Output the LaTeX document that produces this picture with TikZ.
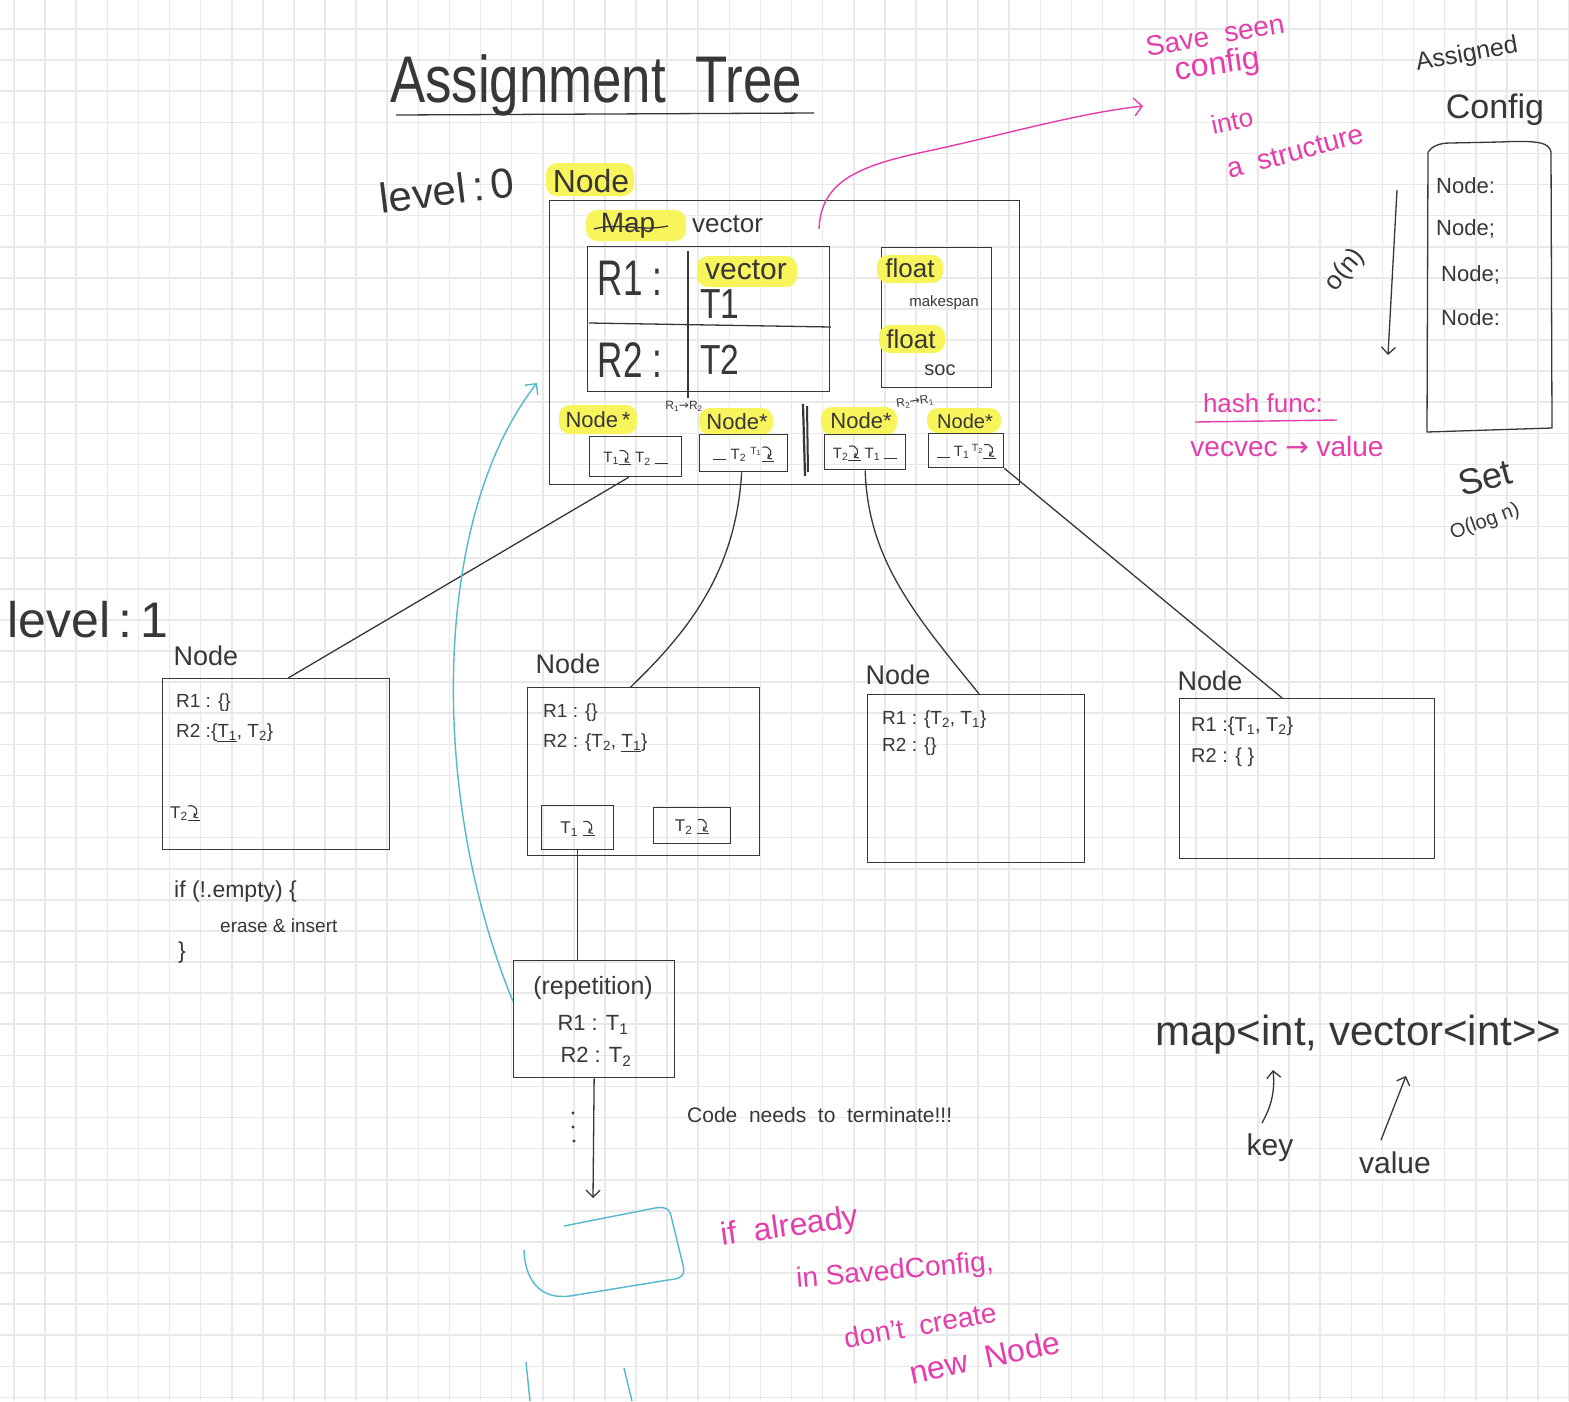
\documentclass[tikz,border=0pt]{standalone}
\usepackage{fontspec}
\setmainfont{Liberation Sans}
\newfontfamily\sym{DejaVu Sans}
\usetikzlibrary{arrows.meta,calc}
\definecolor{inkc}{RGB}{55,55,55}
\definecolor{pinkc}{RGB}{228,62,172}
\definecolor{cyanc}{RGB}{84,184,206}
\definecolor{hlc}{RGB}{248,244,92}
\definecolor{gridc}{RGB}{233,233,233}
\newcommand\fs[1]{\fontsize{#1}{#1}\selectfont}
% small hand-drawn "goes into" curl: over and down into the slot below
\newcommand\curl{\tikz[baseline=0pt,x=1pt,y=1pt]{\draw[draw=inkc,line width=1.1pt,-{Straight Barb[length=3pt,width=6pt]}] (0,12) .. controls (9,14) and (11,5) .. (5,0.5);}}
\newcommand\uc{\underline{\curl}}
\newcommand\blank{\rule[-1pt]{13pt}{1pt}}
\newcommand\sub[1]{\textsubscript{#1}}
\newcommand\sups[1]{\textsuperscript{#1}}

\begin{document}
\begin{tikzpicture}[x=1pt,y=-1pt,
  ink/.style={draw=inkc,line width=1.3pt},
  box/.style={draw=inkc,line width=1.3pt,rectangle,inner sep=0pt,anchor=north west},
  lbl/.style={inner sep=0pt,text=inkc},
  pinklbl/.style={inner sep=0pt,text=pinkc},
  pinkline/.style={draw=pinkc,line width=1.4pt},
  cyanline/.style={draw=cyanc,line width=1.4pt},
  hl/.style={fill=hlc,rounded corners=11pt},
  barb/.style={-{Straight Barb[length=7pt,width=14pt]}}
]
% paper and grid
\fill[white] (0,0) rectangle (1569,1401);
\useasboundingbox (0,0) rectangle (1569,1401);
\foreach \k in {0,...,50} \draw[gridc,line width=1.6pt] ({14+31.1*\k},0) -- ({14+31.1*\k},1401);
\foreach \k in {0,...,44} \draw[gridc,line width=1.6pt] (0,{29+31.1*\k}) -- (1569,{29+31.1*\k});

% title
\node[lbl,anchor=base west] (title) at (390,102) {\fs{66}\scalebox{0.8}[1]{Assignment\ \ Tree}};
\draw[ink] (396,115) -- (814,113);

% ---------- level 0 ----------
\node[lbl,rotate=7] (lv0) at (447,190) {\fs{42}level\,:\,0};
\fill[hl] (546,163) rectangle (634,196);
\node[lbl] (rootlbl) at (591,181) {\fs{32}Node};
\node[box,minimum width=470pt,minimum height=284pt] (root) at (549,200) {};

\fill[hl] (586,210) rectangle (686,241);
\node[lbl] (maplbl) at (628,226) {\fs{28}Map};
\draw[ink] (594,229) .. controls (620,222) and (640,232) .. (668,226);
\node[lbl,anchor=west] (veclbl) at (692,224) {\fs{26}vector};

% table of resources
\node[box,minimum width=242pt,minimum height=145pt] (tbl) at (587,246) {};
\draw[ink] (688,251) -- (688,398);
\draw[ink] (589,323) -- (831,327);
\node[lbl] (r1) at (630,278) {\fs{50}\scalebox{0.7}[1]{R1 :}};
\node[lbl] (r2) at (630,360) {\fs{50}\scalebox{0.7}[1]{R2 :}};
\fill[hl] (697,256) rectangle (797,287);
\node[lbl] (vec2) at (746,270) {\fs{30}vector};
\node[lbl] (t1) at (720,304) {\fs{42}\scalebox{0.8}[1]{T1}};
\node[lbl] (t2) at (720,360) {\fs{42}\scalebox{0.8}[1]{T2}};

% cost fields
\node[box,minimum width=110pt,minimum height=140pt] (flt) at (881,247) {};
\fill[hl] (877,255) rectangle (943,283);
\node[lbl] (f1) at (910,268) {\fs{26}float};
\node[lbl] (mk) at (944,303) {\fs{15}makespan};
\fill[hl] (879,325) rectangle (945,353);
\node[lbl] (f2) at (911,339) {\fs{26}float};
\node[lbl] (soc) at (940,370) {\fs{20}soc};

\node[lbl] (swap1) at (684,406) {\fs{12}R\sub{1}{\sym→}R\sub{2}};
\node[lbl,rotate=8] (swap2) at (915,402) {\fs{12}R\sub{2}{\sym→}R\sub{1}};
\draw[ink,line width=2.2pt] (803,404) -- (805,476);
\draw[ink,line width=2pt] (807,406) -- (808,472);

% child pointers
\fill[hl] (559,405) rectangle (637,434);
\node[lbl] (ns1) at (598,420) {\fs{22}Node\,*};
\fill[hl] (699,408) rectangle (773,435);
\node[lbl] (ns2) at (737,422) {\fs{22}Node*};
\fill[hl] (821,407) rectangle (897,435);
\node[lbl] (ns3) at (861,421) {\fs{22}Node*};
\fill[hl] (927,408) rectangle (1001,433);
\node[lbl] (ns4) at (965,421) {\fs{20}Node*};

\node[box,minimum width=92pt,minimum height=40pt] (b1) at (589,436) {};
\node[box,minimum width=88pt,minimum height=37pt] (b2) at (699,434) {};
\node[box,minimum width=81pt,minimum height=35pt] (b3) at (824,434) {};
\node[box,minimum width=75pt,minimum height=34pt] (b4) at (928,433) {};
\node[lbl] (b1t) at (b1) {\fs{15}T\sub{1}\uc\ T\sub{2}\ \blank};
\node[lbl] (b2t) at (b2) {\fs{15}\blank\ T\sub{2}\ \sups{T\sub{1}}\uc};
\node[lbl] (b3t) at (b3) {\fs{15}T\sub{2}\uc\ T\sub{1}\ \blank};
\node[lbl] (b4t) at (b4) {\fs{15}\blank\ T\sub{1}\,\sups{T\sub{2}}\uc};

% ---------- level 1 ----------
\node[lbl] (lv1) at (88,620) {\fs{50}level\,:\,1};

\node[box,minimum width=227pt,minimum height=171pt] (A) at (162,678) {};
\node[box,minimum width=232pt,minimum height=168pt] (B) at (527,687) {};
\node[box,minimum width=217pt,minimum height=168pt] (C) at (867,694) {};
\node[box,minimum width=255pt,minimum height=160pt] (D) at (1179,698) {};

\node[lbl] (Alb) at (206,656) {\fs{27}Node};
\node[lbl] (Blb) at (568,664) {\fs{27}Node};
\node[lbl] (Clb) at (898,675) {\fs{27}Node};
\node[lbl] (Dlb) at (1210,681) {\fs{27}Node};

\draw[ink] ([xshift=-7pt]b1.south) -- ([xshift=12pt]A.north);
\draw[ink] ([xshift=-2pt]b2.south) .. controls (736,570) and (690,630) .. ([xshift=-13pt]B.north);
\draw[ink] (b3.south) .. controls (868,560) and (915,615) .. ([xshift=3pt]C.north);
\draw[ink] (b4.south east) -- ([xshift=-25pt]D.north);

% node A
\node[lbl,anchor=base west] (Ar1) at (176,707) {\fs{19}R1 : \{\}};
\node[lbl,anchor=base west] (Ar2) at (176,737) {\fs{19}R2 :\{\underline{T\sub{1}}, T\sub{2}\}};
\node[lbl,anchor=base west] (Acur) at (170,818) {\fs{17}T\sub{2}\uc};
\node[lbl,anchor=base west] (if1) at (174,897) {\fs{23}if (!.empty) \{};
\node[lbl,anchor=base west] (if2) at (220,932) {\fs{19}erase \& insert};
\node[lbl,anchor=base west] (if3) at (178,958) {\fs{23}\}};

% node B
\node[lbl,anchor=base west] (Br1) at (543,717) {\fs{19}R1 : \{\}};
\node[lbl,anchor=base west] (Br2) at (543,747) {\fs{19}R2 : \{T\sub{2}, \underline{T\sub{1}}\}};
\node[box,minimum width=72pt,minimum height=44pt] (bi1) at (541,805) {};
\node[box,minimum width=77pt,minimum height=36pt] (bi2) at (653,807) {};
\node[lbl] (bi1t) at (bi1) {\fs{17}T\sub{1}\ \uc};
\node[lbl] (bi2t) at (bi2) {\fs{17}T\sub{2}\ \uc};

% nodes C and D
\node[lbl,anchor=base west] (Cr1) at (882,724) {\fs{19}R1 : \{T\sub{2}, T\sub{1}\}};
\node[lbl,anchor=base west] (Cr2) at (882,751) {\fs{19}R2 : \{\}};
\node[lbl,anchor=base west] (Dr1) at (1191,731) {\fs{20}R1 :\{T\sub{1}, T\sub{2}\}};
\node[lbl,anchor=base west] (Dr2) at (1191,762) {\fs{20}R2 : \{ \}};

% repetition
\node[box,minimum width=161pt,minimum height=117pt] (rep) at (513,960) {};
\node[lbl] (rept) at (593,988) {\fs{25}(repetition)};
\node[lbl] (rep1) at (593,1025) {\fs{22}R1 : T\sub{1}};
\node[lbl] (rep2) at (596,1057) {\fs{22}R2 : T\sub{2}};
\draw[ink] (bi1.south) -- (bi1.south |- rep.north);
\coordinate (nxt) at (593,1198);
\draw[ink,barb] (rep.south) -- (nxt);
\fill[inkc] (573,1113) circle (1.6) (573,1127) circle (1.6) (574,1141) circle (1.6);
\node[lbl,anchor=base west] (term) at (687,1122) {\fs{21}Code\ \ needs\ \ to\ \ terminate!!!};

% back reference to the root
\coordinate (back) at (537,383);
\draw[cyanline,-{Straight Barb[length=8pt,width=16pt]}] ($(rep.north west)!0.35!(rep.south west)$) .. controls (430,800) and (430,520) .. (back);
\draw[cyanline] (564,1226) -- (655,1208) .. controls (668,1206) and (670,1210) .. (672,1220) -- (683,1265) .. controls (686,1276) and (680,1279) .. (668,1280) -- (570,1296) .. controls (540,1300) and (525,1280) .. (524,1250);
\draw[cyanline] (526,1362) -- (530,1401);
\draw[cyanline] (624,1368) -- (632,1401);

\node[pinklbl,rotate=8] (al1) at (790,1228) {\fs{32}if\ \ already};
\node[pinklbl,rotate=5] (al2) at (895,1272) {\fs{28}in SavedConfig,};
\node[pinklbl,rotate=10] (al3) at (920,1325) {\fs{28}don't\ \ create};
\node[pinklbl,rotate=12] (al4) at (985,1357) {\fs{32}new\ \ Node};

% saving seen configurations
\coordinate (cfgfrom) at (819,229);
\coordinate (cfgto) at (1143,106);
\draw[pinkline,-{Straight Barb[length=8pt,width=18pt]}] (cfgfrom) .. controls (821,180) and (860,165) .. (933,150) .. controls (1010,133) and (1080,113) .. (cfgto);
\node[pinklbl,rotate=10] (sv1) at (1215,35) {\fs{28}Save\ \ seen};
\node[pinklbl,rotate=8] (sv2) at (1218,66) {\fs{32}config};
\node[pinklbl,rotate=12] (sv3) at (1232,121) {\fs{26}into};
\node[pinklbl,rotate=15] (sv4) at (1295,152) {\fs{28}a\ \ structure};
\node[pinklbl] (hf) at (1263,403) {\fs{26}hash func:};
\draw[pinkline] (1195,422) -- (1337,420);
\node[pinklbl] (vv) at (1287,446) {\fs{28}vecvec {\sym→} value};

% assigned configurations container
\node[lbl,rotate=10] (as1) at (1467,55) {\fs{25}Assigned};
\node[lbl] (as2) at (1495,110) {\fs{34}Config};
\draw[ink] (1428,152) -- (1427,432) -- (1552,428) -- (1551,152) .. controls (1549,143) and (1540,140) .. (1500,142) -- (1450,143) .. controls (1440,143) and (1432,146) .. (1428,152);
\node[lbl,anchor=base west] (cn1) at (1436,193) {\fs{22}Node:};
\node[lbl,anchor=base west] (cn2) at (1436,235) {\fs{22}Node;};
\node[lbl,anchor=base west] (cn3) at (1441,281) {\fs{22}Node;};
\node[lbl,anchor=base west] (cn4) at (1441,325) {\fs{22}Node:};
\draw[ink,barb] (1397,190) -- (1388,355);
\node[lbl,rotate=50] (on) at (1345,270) {\fs{26}o(n)};
\node[lbl,rotate=15] (set) at (1485,478) {\fs{36}Set};
\node[lbl,rotate=20] (olog) at (1485,522) {\fs{20}O(log n)};

% map type note
\node[lbl,anchor=base west] (mp) at (1155,1045) {\fs{42}map<int, vector<int>{}>};
\draw[ink,barb] (1262,1123) .. controls (1272,1105) and (1275,1090) .. (1273,1070);
\draw[ink,barb] (1381,1140) -- (1406,1076);
\node[lbl] (key) at (1270,1148) {\fs{30}key};
\node[lbl] (val) at (1395,1163) {\fs{30}value};
\end{tikzpicture}
\end{document}
